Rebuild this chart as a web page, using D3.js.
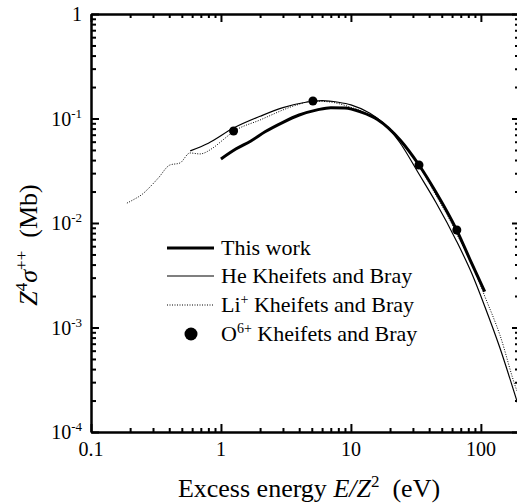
<!DOCTYPE html>
<html>
<head>
<meta charset="utf-8">
<script src="https://cdn.jsdelivr.net/npm/d3@7"></script>
<style>
  body { margin: 0; background: #fff; }
  text { font-family: "Liberation Serif", "Times New Roman", serif; fill: #000; }
</style>
</head>
<body>
<div id="chart"></div>
<script>
// ---- data (E/Z^2 in eV, Z^4 sigma++ in Mb) ----
var thisWorkE = [1, 1.3, 1.7, 2.2, 3, 4, 5.5, 7, 9, 12, 16, 24, 33.4, 45, 65, 85, 107];
var thisWorkS = [0.041, 0.051, 0.061, 0.075, 0.092, 0.108, 0.121, 0.127, 0.126, 0.115, 0.098, 0.062, 0.0359, 0.0198, 0.0086, 0.0041, 0.0022];

var heE = [0.58, 0.8, 1.25, 2, 3, 4.5, 6, 8, 10, 14, 20, 24, 33.4, 45, 65, 85, 107, 140, 189, 200];
var heS = [0.049, 0.058, 0.081, 0.105, 0.127, 0.143, 0.148, 0.143, 0.135, 0.112, 0.078, 0.058, 0.0294, 0.0158, 0.0067, 0.0033, 0.0016, 0.00064, 0.0002, 0.00016];

var liE = [0.189, 0.21, 0.25, 0.284, 0.33, 0.405, 0.483, 0.578, 0.688, 0.866, 1.035, 1.235, 2.0, 3.85, 5.1, 6.9, 9.8, 14, 20, 24, 33.4, 45, 57.7, 65, 85, 107, 140, 189, 200];
var liS = [0.0155, 0.0166, 0.019, 0.0221, 0.027, 0.0359, 0.0375, 0.0468, 0.0458, 0.0522, 0.0623, 0.0743, 0.0968, 0.135, 0.147, 0.144, 0.129, 0.108, 0.08, 0.062, 0.0355, 0.0185, 0.0107, 0.0079, 0.0041, 0.002, 0.00085, 0.00025, 0.00021];

var oE = [1.25, 5.1, 33.4, 65.3];
var oS = [0.0759, 0.147, 0.0359, 0.00857];

var xMajor = [0.1, 1, 10, 100];
var xMajorLabels = ["0.1", "1", "10", "100"];
var yMajor = [1, 0.1, 0.01, 0.001, 0.0001];
var yExps = ["", "-1", "-2", "-3", "-4"];

var legendNames = ["This work", "He Kheifets and Bray", "Li", "O"];

////////////// layout //////////////
var W = 517, H = 504;
var pLeft = 91, pRight = 520, pTop = 14, pBottom = 432;

var svg = d3.select("#chart").append("svg")
    .attr("width", W)
    .attr("height", H);

var x = d3.scaleLog().domain([0.1, 200]).range([pLeft, pRight]);
var y = d3.scaleLog().domain([0.0001, 1]).range([pBottom, pTop]);

// minor tick values
var xMinor = [];
[0.1, 1, 10, 100].forEach(function(d) {
    for (var k = 2; k <= 9; k++) if (d * k <= 200) xMinor.push(d * k);
});
var yMinor = [];
[0.0001, 0.001, 0.01, 0.1].forEach(function(d) {
    for (var k = 2; k <= 9; k++) yMinor.push(d * k);
});

function styleAxis(g) {
    g.select(".domain").attr("stroke-width", 2).attr("stroke", "#000");
    g.selectAll(".tick line").attr("stroke-width", 2).attr("stroke", "#000");
    g.selectAll(".tick text").remove();
}

// bottom
svg.append("g").attr("transform", "translate(0," + pBottom + ")")
    .call(d3.axisBottom(x).tickValues(xMajor).tickSize(-8).tickSizeOuter(0)).call(styleAxis);
svg.append("g").attr("transform", "translate(0," + pBottom + ")")
    .call(d3.axisBottom(x).tickValues(xMinor).tickSize(-4).tickSizeOuter(0)).call(styleAxis);
// top
svg.append("g").attr("transform", "translate(0," + pTop + ")")
    .call(d3.axisTop(x).tickValues(xMajor).tickSize(-8).tickSizeOuter(0)).call(styleAxis);
svg.append("g").attr("transform", "translate(0," + pTop + ")")
    .call(d3.axisTop(x).tickValues(xMinor).tickSize(-4).tickSizeOuter(0)).call(styleAxis);
// left
svg.append("g").attr("transform", "translate(" + pLeft + ",0)")
    .call(d3.axisLeft(y).tickValues(yMajor).tickSize(-8).tickSizeOuter(0)).call(styleAxis);
svg.append("g").attr("transform", "translate(" + pLeft + ",0)")
    .call(d3.axisLeft(y).tickValues(yMinor).tickSize(-5).tickSizeOuter(0)).call(styleAxis);
// right
svg.append("g").attr("transform", "translate(" + pRight + ",0)")
    .call(d3.axisRight(y).tickValues(yMajor).tickSize(-8).tickSizeOuter(0)).call(styleAxis);
svg.append("g").attr("transform", "translate(" + pRight + ",0)")
    .call(d3.axisRight(y).tickValues(yMinor).tickSize(-5).tickSizeOuter(0)).call(styleAxis);

// tick labels
svg.selectAll(".xlab").data(xMajor).enter().append("text")
    .attr("x", function(d) { return x(d); })
    .attr("y", 456)
    .attr("text-anchor", "middle")
    .attr("font-size", "20px")
    .text(function(d, i) { return xMajorLabels[i]; });

yMajor.forEach(function(d, i) {
    var t = svg.append("text")
        .attr("x", 82)
        .attr("y", y(d) + 7)
        .attr("text-anchor", "end")
        .attr("font-size", "20px");
    if (yExps[i] === "") {
        t.text("1");
    } else {
        t.append("tspan").text("10");
        t.append("tspan").attr("dy", -8).attr("font-size", "13px").text(yExps[i]);
    }
});

// axis titles
var xt = svg.append("text")
    .attr("x", 309).attr("y", 497)
    .attr("text-anchor", "middle")
    .attr("font-size", "26px");
xt.append("tspan").text("Excess energy ");
xt.append("tspan").attr("font-style", "italic").text("E/Z");
xt.append("tspan").attr("dy", -10).attr("font-size", "17px").text("2");
xt.append("tspan").attr("dy", 10).text("\u00a0\u00a0(eV)");

var yt = svg.append("text")
    .attr("transform", "translate(37,245) rotate(-90)")
    .attr("text-anchor", "middle")
    .attr("font-size", "26px");
yt.append("tspan").attr("font-style", "italic").text("Z");
yt.append("tspan").attr("dy", -10).attr("font-size", "17px").text("4");
yt.append("tspan").attr("dy", 10).attr("font-style", "italic").text("\u03c3");
yt.append("tspan").attr("dy", -10).attr("font-size", "17px").text("++");
yt.append("tspan").attr("dy", 10).text("\u00a0\u00a0(Mb)");

// curves
svg.append("clipPath").attr("id", "plotclip")
    .append("rect").attr("x", pLeft).attr("y", pTop)
    .attr("width", pRight - pLeft).attr("height", pBottom - pTop);

var line = d3.line()
    .x(function(d) { return x(d[0]); })
    .y(function(d) { return y(d[1]); })
    .curve(d3.curveMonotoneX);

function pairs(a, b) { return a.map(function(v, i) { return [v, b[i]]; }); }

var plot = svg.append("g").attr("clip-path", "url(#plotclip)");

plot.append("path").datum(pairs(liE, liS))
    .attr("d", line).attr("fill", "none").attr("stroke", "#000")
    .attr("stroke-width", 1).attr("stroke-dasharray", "1,1.5");
plot.append("path").datum(pairs(heE, heS))
    .attr("d", line).attr("fill", "none").attr("stroke", "#000")
    .attr("stroke-width", 1.2);
plot.append("path").datum(pairs(thisWorkE, thisWorkS))
    .attr("d", line).attr("fill", "none").attr("stroke", "#000")
    .attr("stroke-width", 3);
plot.selectAll(".odot").data(pairs(oE, oS)).enter().append("circle")
    .attr("cx", function(d) { return x(d[0]); })
    .attr("cy", function(d) { return y(d[1]); })
    .attr("r", 4.5).attr("fill", "#000");

// legend
var lg = svg.append("g");
var rows = [248, 276, 305, 334];
lg.append("line").attr("x1", 167).attr("x2", 214).attr("y1", rows[0]).attr("y2", rows[0])
    .attr("stroke", "#000").attr("stroke-width", 3);
lg.append("line").attr("x1", 167).attr("x2", 214).attr("y1", rows[1]).attr("y2", rows[1])
    .attr("stroke", "#000").attr("stroke-width", 1.2);
lg.append("line").attr("x1", 167).attr("x2", 214).attr("y1", rows[2]).attr("y2", rows[2])
    .attr("stroke", "#000").attr("stroke-width", 1).attr("stroke-dasharray", "1,1.5");
lg.append("circle").attr("cx", 191).attr("cy", rows[3]).attr("r", 6.5).attr("fill", "#000");

lg.append("text").attr("x", 221).attr("y", rows[0] + 7).attr("font-size", "22px").text(legendNames[0]);
lg.append("text").attr("x", 221).attr("y", rows[1] + 7).attr("font-size", "22px").text(legendNames[1]);
var t2 = lg.append("text").attr("x", 221).attr("y", rows[2] + 7).attr("font-size", "22px");
t2.append("tspan").text(legendNames[2]);
t2.append("tspan").attr("dy", -8).attr("font-size", "14px").text("+");
t2.append("tspan").attr("dy", 8).text(" Kheifets and Bray");
var t3 = lg.append("text").attr("x", 221).attr("y", rows[3] + 7).attr("font-size", "22px");
t3.append("tspan").text(legendNames[3]);
t3.append("tspan").attr("dy", -8).attr("font-size", "14px").text("6+");
t3.append("tspan").attr("dy", 8).text(" Kheifets and Bray");
</script>
</body>
</html>
